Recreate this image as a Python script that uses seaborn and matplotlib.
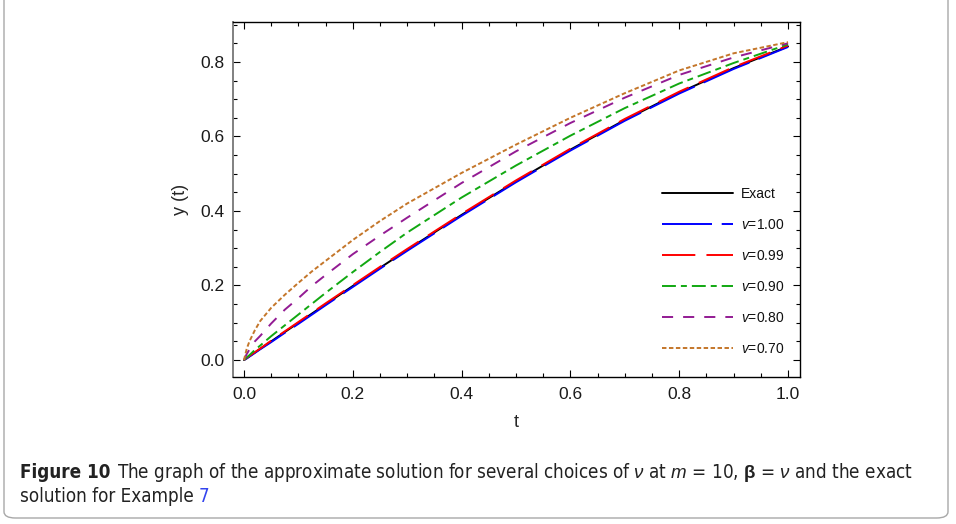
import numpy as np
import pandas as pd
import matplotlib
matplotlib.use("Agg")
import matplotlib.pyplot as plt
import seaborn as sns
from matplotlib.patches import FancyBboxPatch
from matplotlib.ticker import MultipleLocator

# ---- data ----
t_vals = [0.0, 0.005, 0.01, 0.02, 0.03, 0.05, 0.075, 0.1, 0.125, 0.15, 0.2, 0.25,
          0.3, 0.4, 0.5, 0.6, 0.7, 0.8, 0.9, 1.0]
y_exact = [0.0, 0.005, 0.010, 0.020, 0.030, 0.050, 0.075, 0.0998, 0.1247, 0.1494, 0.1987, 0.2474,
           0.2955, 0.3894, 0.4794, 0.5646, 0.6442, 0.7174, 0.7833, 0.8415]
y_v100 = [0.0, 0.004, 0.009, 0.019, 0.029, 0.048, 0.073, 0.097, 0.122, 0.147, 0.196, 0.245,
          0.293, 0.387, 0.477, 0.562, 0.642, 0.715, 0.781, 0.840]
y_v099 = [0.0, 0.006, 0.011, 0.021, 0.031, 0.052, 0.077, 0.102, 0.127, 0.152, 0.201, 0.250,
          0.298, 0.392, 0.482, 0.567, 0.647, 0.720, 0.786, 0.844]
y_v090 = [0.0, 0.007, 0.013, 0.027, 0.039, 0.064, 0.093, 0.122, 0.151, 0.180, 0.236, 0.290,
          0.342, 0.436, 0.522, 0.602, 0.676, 0.742, 0.797, 0.847]
y_v080 = [0.0, 0.016, 0.028, 0.050, 0.065, 0.098, 0.135, 0.166, 0.199, 0.228, 0.284, 0.334,
          0.382, 0.475, 0.560, 0.636, 0.704, 0.765, 0.812, 0.850]
y_v070 = [0.0, 0.030, 0.050, 0.080, 0.105, 0.140, 0.175, 0.207, 0.238, 0.266, 0.322, 0.373,
          0.420, 0.502, 0.578, 0.650, 0.716, 0.777, 0.823, 0.853]

series_labels = ["Exact", "$v$=1.00", "$v$=0.99", "$v$=0.90", "$v$=0.80", "$v$=0.70"]
series_values = [y_exact, y_v100, y_v099, y_v090, y_v080, y_v070]
x_ticks = [0.0, 0.2, 0.4, 0.6, 0.8, 1.0]
y_ticks = [0.0, 0.2, 0.4, 0.6, 0.8]

colors = ["#000000", "#0000ff", "#ff0000", "#11a811", "#931b93", "#c4762a"]
styles = ["-", (0, (36, 7)), (0, (24, 8)), (0, (10, 3.6, 4.3, 3.6)), (0, (8, 7.2)), (0, (3.2, 1.8))]

df = pd.DataFrame({
    "t": t_vals * len(series_labels),
    "y": [v for vals in series_values for v in vals],
    "series": [lab for lab in series_labels for _ in t_vals],
})

sns.set_theme(style="white")
plt.rcParams["font.family"] = ["Liberation Sans", "DejaVu Sans"]
plt.rcParams["mathtext.fontset"] = "custom"
plt.rcParams["mathtext.rm"] = "Liberation Sans"
plt.rcParams["mathtext.it"] = "Liberation Sans:italic"
plt.rcParams["mathtext.bf"] = "Liberation Sans:bold"
plt.rcParams["lines.scale_dashes"] = False

W, H = 956, 524
fig = plt.figure(figsize=(W / 100, H / 100), dpi=100)
ax = fig.add_axes([233 / W, 1 - 377 / H, (800 - 233) / W, (377 - 22) / H])

for lab, col, ls in zip(series_labels, colors, styles):
    sub = df[df["series"] == lab]
    sns.lineplot(data=sub, x="t", y="y", ax=ax, color=col, linestyle=ls,
                 linewidth=1.4, label=lab, estimator=None, sort=False)

ax.set_xlim(-0.0202, 1.022)
ax.set_ylim(-0.0456, 0.907)
ax.set_xticks(x_ticks)
ax.set_xticklabels([f"{v:.1f}" for v in x_ticks])
ax.set_yticks(y_ticks)
ax.set_yticklabels([f"{v:.1f}" for v in y_ticks])
ax.xaxis.set_minor_locator(MultipleLocator(0.05))
ax.yaxis.set_minor_locator(MultipleLocator(0.05))
ax.tick_params(which="both", direction="in", top=True, right=True, bottom=True, left=True,
               colors="#000000", labelcolor="#1a1a1a", labelsize=12.5, width=0.8)
ax.tick_params(which="major", length=5)
ax.tick_params(which="minor", length=3)
ax.tick_params(axis="x", pad=7)
ax.tick_params(axis="y", pad=6)
for s in ["top", "right", "bottom"]:
    ax.spines[s].set_color("#000000")
    ax.spines[s].set_linewidth(1.0)
ax.spines["left"].set_color("#808080")
ax.spines["left"].set_linewidth(1.4)

ax.set_xlabel("t", fontsize=13, labelpad=9)
ax.set_ylabel("y (t)", fontsize=13, labelpad=8)

leg = ax.legend(loc="upper left", bbox_to_anchor=(662 / W, 1 - 187 / H),
                bbox_transform=fig.transFigure, frameon=False, fontsize=10,
                handlelength=5.1, handletextpad=0.6, labelspacing=1.22,
                borderpad=0, borderaxespad=0)
for txt in leg.get_texts():
    txt.set_color("#111111")

# rounded frame around the figure
frame = FancyBboxPatch((4 / W, 6 / H), (948 - 4) / W, (H + 20) / H,
                       boxstyle="round,pad=0,rounding_size=0.012",
                       transform=fig.transFigure, fill=False,
                       edgecolor="#a8a8a8", linewidth=1.0, clip_on=False)
fig.patches.append(frame)

# caption
cap_kw = dict(fontsize=13.5, family=["DejaVu Sans"], stretch="condensed", color="#222222")
fig.canvas.draw()
r = fig.canvas.get_renderer()
t1 = fig.text(20 / W, 1 - 472 / H, "Figure 10", fontweight="bold", va="center", **cap_kw)
bb = t1.get_window_extent(r)
fig.text((bb.x1 + 7) / W, 1 - 472 / H,
         r"The graph of the approximate solution for several choices of $\nu$ at $m$ = 10, "
         r"$\mathbf{\beta}$ = $\nu$ and the exact",
         va="center", **cap_kw)
t3 = fig.text(20 / W, 1 - 497 / H, "solution for Example ", va="center", **cap_kw)
bb3 = t3.get_window_extent(r)
fig.text(bb3.x1 / W, 1 - 497 / H, "7", va="center",
         **{**cap_kw, "color": "#3344ee"})

fig.savefig("out.png", dpi=100)
